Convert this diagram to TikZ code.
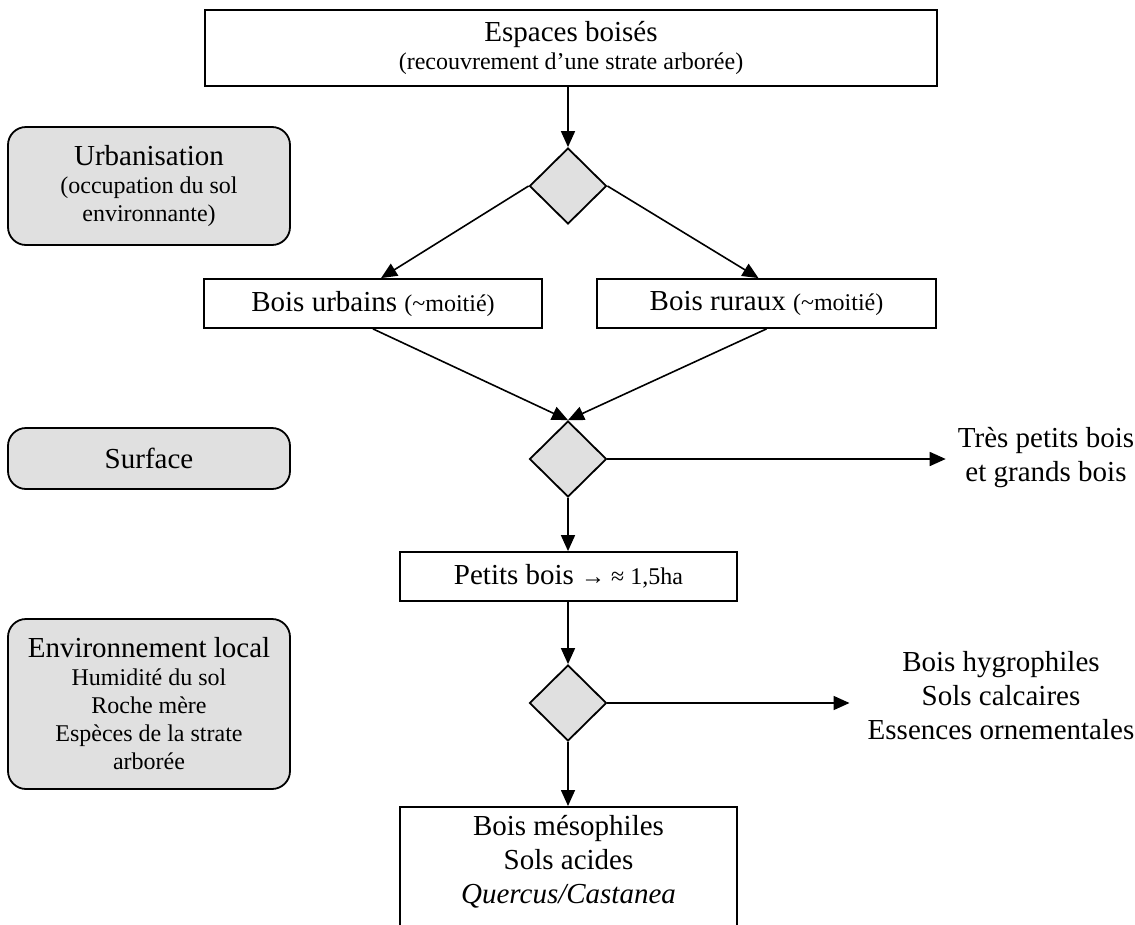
\documentclass[tikz,border=0pt]{standalone}
\usepackage{fontspec}
\setmainfont{Liberation Serif}
\usetikzlibrary{shapes.geometric,arrows.meta}
\definecolor{boxgray}{RGB}{224,224,224}
\newcommand{\bigf}{\fontsize{29}{30}\selectfont}
\newcommand{\bigsp}{\fontsize{29}{34}\selectfont}
\newcommand{\smallf}{\fontsize{24}{28}\selectfont}
\begin{document}
\begin{tikzpicture}[x=1pt,y=-1pt,
  box/.style={draw, line width=1.8pt, rectangle, inner sep=0pt, align=center, font=\bigf},
  gbox/.style={draw, line width=1.8pt, rounded corners=18pt, fill=boxgray, inner sep=0pt, align=center, minimum width=282pt, font=\smallf},
  dec/.style={draw, diamond, line width=1.8pt, fill=boxgray, minimum width=77pt, minimum height=76pt, inner sep=0pt, aspect=1},
  arr/.style={line width=1.6pt, -{Triangle[length=16pt,width=14pt]}},
  plain/.style={align=center, font=\bigsp, inner ysep=0pt},
]
\path[use as bounding box, clip] (0,0) rectangle (1135,924);

% left gray boxes
\node[gbox, minimum height=118pt] (urbn) at (149,186)
  {{\bigf Urbanisation}\\(occupation du sol\\environnante)};
\node[gbox, minimum height=61pt] (surf) at (149,458.5) {{\bigf Surface}};
\node[gbox, minimum height=170pt] (envl) at (149,704)
  {{\bigf Environnement local}\\Humidité du sol\\Roche mère\\Espèces de la strate\\arborée};

% main column
\node[box, minimum width=732pt, minimum height=76pt, font=\smallf] (top) at (571,48)
  {{\bigf Espaces boisés}\\(recouvrement d’une strate arborée)};
\node[dec] (d1) at (568,186) {};
\node[box, minimum width=338pt, minimum height=49pt] (urb) at (373,303.5)
  {Bois urbains {\smallf (\textasciitilde moitié)}};
\node[box, minimum width=339pt, minimum height=49pt] (rur) at (766.5,303.5)
  {Bois ruraux {\smallf (\textasciitilde moitié)}};
\node[dec] (d2) at (568,459) {};
\node[box, minimum width=337pt, minimum height=49pt] (pb) at (568.5,576.5)
  {Petits bois {\smallf → ≈ 1,5ha}};
\node[dec] (d3) at (568,703) {};
\node[box, minimum width=337pt, anchor=north, inner ysep=8pt, text depth=110pt, font=\bigsp] (meso) at (568.5,806)
  {Bois mésophiles\\Sols acides\\\textit{Quercus/Castanea}};

% right texts
\node[plain, inner xsep=12pt] (tres) at (1046,458) {Très petits bois\\et grands bois};
\node[plain, inner xsep=18pt] (hyg) at (1001,696) {Bois hygrophiles\\Sols calcaires\\Essences ornementales};

% connectors
\draw[arr] (top.south -| d1.north) -- (d1.north);
\draw[arr] (d1.west) -- ([xshift=8pt]urb.north);
\draw[arr] (d1.east) -- ([xshift=-8pt]rur.north);
\draw[arr] (urb.south) -- (d2.north);
\draw[arr] (rur.south) -- (d2.north);
\draw[arr] (d2.east) -- (d2.east -| tres.west);
\draw[arr] (d2.south) -- (pb.north -| d2.south);
\draw[arr] (pb.south -| d3.north) -- (d3.north);
\draw[arr] (d3.east) -- (d3.east -| hyg.west);
\draw[arr] (d3.south) -- (meso.north -| d3.south);
\end{tikzpicture}
\end{document}
